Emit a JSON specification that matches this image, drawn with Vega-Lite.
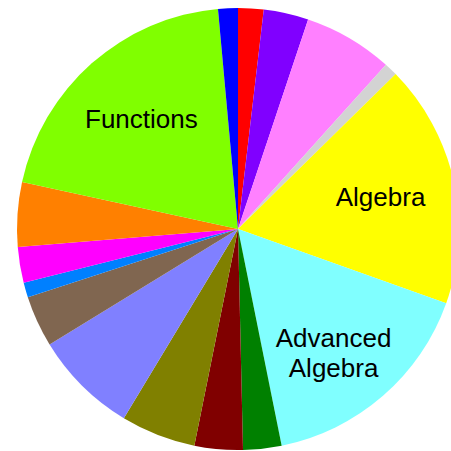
{
  "$schema": "https://vega.github.io/schema/vega-lite/v6.json",
  "width": 442,
  "height": 442,
  "autosize": {"type": "none"},
  "padding": {"left": 17, "top": 8, "right": 0, "bottom": 0},
  "background": "white",
  "view": {"stroke": null},
  "data": {
    "values": [
      {"idx": 1, "name": "s01", "label": "", "value": 6.7},
      {"idx": 2, "name": "s02", "label": "", "value": 11.8},
      {"idx": 3, "name": "s03", "label": "", "value": 23.5},
      {"idx": 4, "name": "s04", "label": "", "value": 3.5},
      {"idx": 5, "name": "Algebra", "label": "Algebra", "value": 64.1},
      {"idx": 6, "name": "Advanced Algebra", "label": "Advanced\nAlgebra", "value": 59.0},
      {"idx": 7, "name": "s07", "label": "", "value": 10.1},
      {"idx": 8, "name": "s08", "label": "", "value": 12.7},
      {"idx": 9, "name": "s09", "label": "", "value": 19.7},
      {"idx": 10, "name": "s10", "label": "", "value": 27.4},
      {"idx": 11, "name": "s11", "label": "", "value": 13.5},
      {"idx": 12, "name": "s12", "label": "", "value": 3.9},
      {"idx": 13, "name": "s13", "label": "", "value": 9.4},
      {"idx": 14, "name": "s14", "label": "", "value": 17.0},
      {"idx": 15, "name": "Functions", "label": "Functions", "value": 72.5},
      {"idx": 16, "name": "s16", "label": "", "value": 5.2}
    ]
  },
  "encoding": {
    "theta": {"field": "value", "type": "quantitative", "stack": true},
    "order": {"field": "idx", "type": "quantitative", "sort": "ascending"}
  },
  "layer": [
    {
      "mark": {"type": "arc"},
      "encoding": {
        "color": {
          "field": "name",
          "type": "nominal",
          "legend": null,
          "scale": {
            "domain": ["s01", "s02", "s03", "s04", "Algebra", "Advanced Algebra", "s07", "s08", "s09", "s10", "s11", "s12", "s13", "s14", "Functions", "s16"],
            "range": ["#ff0000", "#8000ff", "#ff80ff", "#d3d3d3", "#ffff00", "#80ffff", "#008000", "#800000", "#808000", "#8080ff", "#806650", "#0080ff", "#ff00ff", "#ff8000", "#80ff00", "#0000ff"]
          }
        }
      }
    },
    {
      "mark": {"type": "text", "radius": 146, "fontSize": 26, "font": "Liberation Sans", "color": "black", "lineBreak": "\n", "lineHeight": 30},
      "encoding": {
        "text": {"field": "label", "type": "nominal"}
      }
    }
  ]
}
